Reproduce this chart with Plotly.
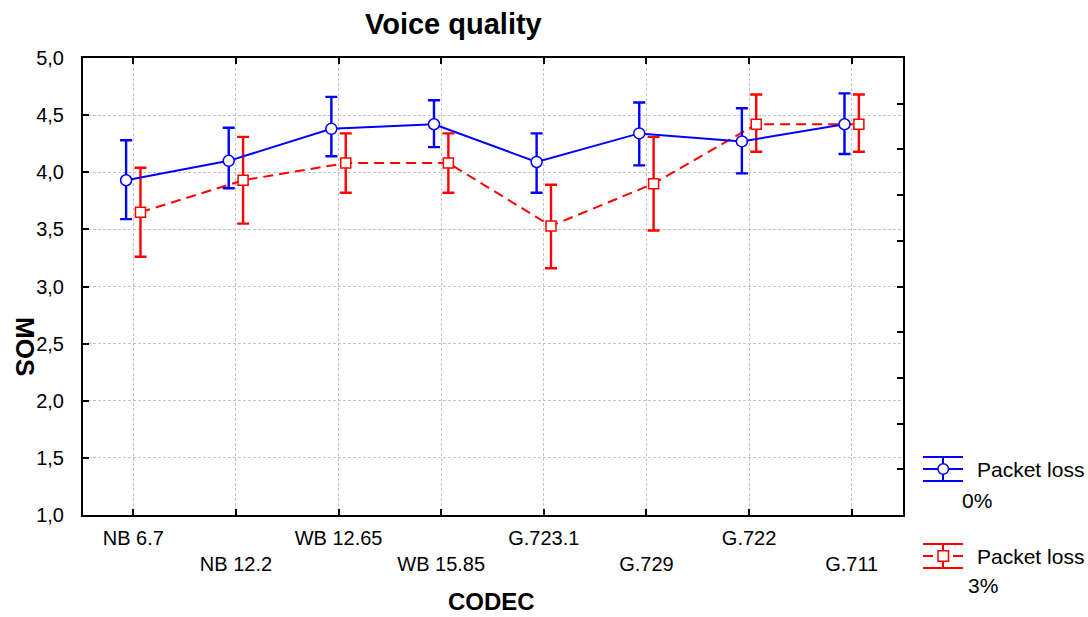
import plotly.graph_objects as go

# ---- data ----
codecs = ["NB 6.7", "NB 12.2", "WB 12.65", "WB 15.85", "G.723.1", "G.729", "G.722", "G.711"]

loss0_mean = [3.93, 4.10, 4.38, 4.42, 4.09, 4.34, 4.27, 4.42]
loss0_upper = [4.28, 4.39, 4.66, 4.63, 4.34, 4.61, 4.56, 4.69]
loss0_lower = [3.59, 3.86, 4.14, 4.22, 3.82, 4.06, 3.99, 4.16]

loss3_mean = [3.65, 3.93, 4.08, 4.08, 3.53, 3.90, 4.42, 4.42]
loss3_upper = [4.04, 4.31, 4.34, 4.34, 3.89, 4.31, 4.68, 4.68]
loss3_lower = [3.26, 3.55, 3.82, 3.82, 3.16, 3.49, 4.18, 4.18]

y_ticks = [1.0, 1.5, 2.0, 2.5, 3.0, 3.5, 4.0, 4.5, 5.0]
y_ticktext = ["1,0", "1,5", "2,0", "2,5", "3,0", "3,5", "4,0", "4,5", "5,0"]
right_ticks = [1.0, 1.4, 1.8, 2.2, 2.6, 3.0, 3.4, 3.8, 4.2, 4.6, 5.0]

# ---- layout geometry ----
W, H = 1088, 617
L, R, T, B = 83, 903, 58, 515
FONT = "Liberation Sans, Arial, sans-serif"
BLUE = "#0000FF"
RED = "#FF0000"


def px(x):
    return (x - L) / (R - L)


def py(y):
    return (B - y) / (B - T)


idx = list(range(len(codecs)))
x0 = [i - 0.07 for i in idx]
x3 = [i + 0.07 for i in idx]

fig = go.Figure()

fig.add_trace(go.Scatter(
    x=x3, y=loss3_mean, mode="lines+markers", name="Packet loss 3%",
    line=dict(color=RED, width=2, dash="10px,6px"),
    marker=dict(symbol="square", size=10, color="white", line=dict(color=RED, width=1.5)),
    error_y=dict(type="data", symmetric=False,
                 array=[u - m for u, m in zip(loss3_upper, loss3_mean)],
                 arrayminus=[m - l for m, l in zip(loss3_mean, loss3_lower)],
                 color=RED, thickness=2.4, width=6),
    showlegend=False,
))

fig.add_trace(go.Scatter(
    x=x0, y=loss0_mean, mode="lines+markers", name="Packet loss 0%",
    line=dict(color=BLUE, width=2),
    marker=dict(symbol="circle", size=11, color="white", line=dict(color=BLUE, width=1.5)),
    error_y=dict(type="data", symmetric=False,
                 array=[u - m for u, m in zip(loss0_upper, loss0_mean)],
                 arrayminus=[m - l for m, l in zip(loss0_mean, loss0_lower)],
                 color=BLUE, thickness=2.4, width=6),
    showlegend=False,
))

# invisible trace to activate the right-hand tick axis
fig.add_trace(go.Scatter(x=[0], y=[1], yaxis="y2", mode="markers",
                         marker=dict(opacity=0), hoverinfo="skip", showlegend=False))

ticktext_x = [c if i % 2 == 0 else "<br>" + c for i, c in enumerate(codecs)]

fig.update_layout(
    width=W, height=H,
    margin=dict(l=L, r=W - R, t=T, b=H - B, pad=0),
    paper_bgcolor="white", plot_bgcolor="white",
    font=dict(family=FONT, size=20, color="black"),
    xaxis=dict(
        range=[-0.49, 7.5], tickvals=idx, ticktext=ticktext_x,
        showgrid=True, gridcolor="#c4c4c4", gridwidth=1, griddash="3px,2px",
        zeroline=False, showline=True, linecolor="black", linewidth=2,
        mirror="ticks", ticks="inside", ticklen=6, tickwidth=1.5, tickcolor="black",
        tickfont=dict(size=20), ticklabelstandoff=4,
    ),
    yaxis=dict(
        range=[1, 5], tickvals=y_ticks, ticktext=y_ticktext,
        showgrid=True, gridcolor="#c4c4c4", gridwidth=1, griddash="3px,2px",
        zeroline=False, showline=True, linecolor="black", linewidth=2,
        mirror=True, ticks="inside", ticklen=6, tickwidth=1.5, tickcolor="black",
        tickfont=dict(size=20), ticklabelstandoff=13,
    ),
    yaxis2=dict(
        range=[1, 5], overlaying="y", side="right", tickvals=right_ticks,
        showticklabels=False, showgrid=False, zeroline=False, showline=False,
        ticks="inside", ticklen=6, tickwidth=1.5, tickcolor="black",
    ),
)

annotations = [
    dict(text="<b>Voice quality</b>", x=px(453), y=py(24), xref="paper", yref="paper",
         xanchor="center", yanchor="middle", showarrow=False, font=dict(size=29)),
    dict(text="<b>CODEC</b>", x=px(491), y=py(601), xref="paper", yref="paper",
         xanchor="center", yanchor="middle", showarrow=False, font=dict(size=24)),
    dict(text="<b>MOS</b>", x=px(25), y=py(346), xref="paper", yref="paper",
         xanchor="center", yanchor="middle", showarrow=False, textangle=90,
         font=dict(size=26)),
    dict(text="Packet loss", x=px(975), y=py(469), xref="paper", yref="paper",
         xanchor="left", yanchor="middle", showarrow=False, font=dict(size=21)),
    dict(text="0%", x=px(960), y=py(500), xref="paper", yref="paper",
         xanchor="left", yanchor="middle", showarrow=False, font=dict(size=21)),
    dict(text="Packet loss", x=px(975), y=py(556), xref="paper", yref="paper",
         xanchor="left", yanchor="middle", showarrow=False, font=dict(size=21)),
    dict(text="3%", x=px(966), y=py(585), xref="paper", yref="paper",
         xanchor="left", yanchor="middle", showarrow=False, font=dict(size=21)),
]
fig.update_layout(annotations=annotations)

# legend symbols (error-bar glyphs)
shapes = []


def hline(xa, xb, y, color, dash="solid"):
    shapes.append(dict(type="line", xref="paper", yref="paper", x0=px(xa), x1=px(xb),
                       y0=py(y), y1=py(y), line=dict(color=color, width=2, dash=dash)))


def vline(x, ya, yb, color):
    shapes.append(dict(type="line", xref="paper", yref="paper", x0=px(x), x1=px(x),
                       y0=py(ya), y1=py(yb), line=dict(color=color, width=2)))


# blue
hline(923, 963, 457, BLUE)
hline(923, 963, 481, BLUE)
hline(923, 963, 469, BLUE)
vline(943, 457, 481, BLUE)
shapes.append(dict(type="circle", xref="paper", yref="paper", x0=px(938), x1=px(948.5),
                   y0=py(463.8), y1=py(474.3), fillcolor="white", line=dict(color=BLUE, width=1.5)))
# red
hline(923, 963, 544, RED)
hline(923, 963, 568, RED)
hline(923, 933, 556, RED)
hline(953, 963, 556, RED)
vline(943, 544, 568, RED)
shapes.append(dict(type="rect", xref="paper", yref="paper", x0=px(938), x1=px(948.5),
                   y0=py(550.8), y1=py(561.3), fillcolor="white", line=dict(color=RED, width=1.5)))
fig.update_layout(shapes=shapes)

fig.write_html("out.html")
